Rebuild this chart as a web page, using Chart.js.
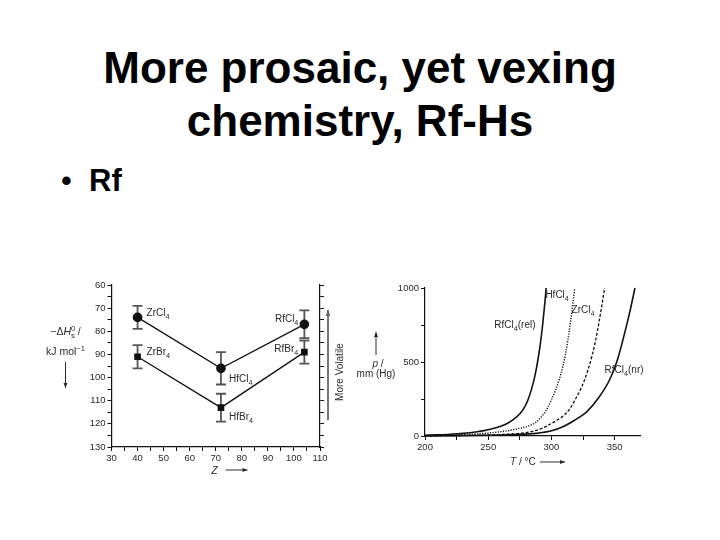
<!DOCTYPE html>
<html>
<head>
<meta charset="utf-8">
<script src="https://cdn.jsdelivr.net/npm/chart.js@4.4.1/dist/chart.umd.min.js"></script>
<style>
html, body { margin: 0; padding: 0; background: #fff; }
body { width: 720px; height: 540px; position: relative; overflow: hidden; font-family: "Liberation Sans", Arial, sans-serif; color: #000; }
#title { position: absolute; left: 0; top: 41px; width: 720px; text-align: center; font-weight: bold; font-size: 44px; line-height: 53px; }
.bullet { position: absolute; top: 165px; font-size: 31px; line-height: 31px; }
.box { position: absolute; }
</style>
</head>
<body>
<div id="title">More prosaic, yet vexing<br>chemistry, Rf-Hs</div>
<div class="bullet" style="left:61px">•</div>
<div class="bullet" style="left:89px;font-weight:bold">Rf</div>
<div class="box" style="left:30px;top:270px;width:320px;height:215px"><canvas id="enthalpy"></canvas></div>
<div class="box" style="left:350px;top:270px;width:320px;height:200px"><canvas id="pressure"></canvas></div>

<script>
// Left panel: sublimation enthalpies vs. Z
const zValues = [40, 72, 104];
const chlorideH = [74, 96, 77];
const chlorideErr = [5, 7, 6];
const bromideH = [91, 113, 89];
const bromideErr = [5, 6, 5];

// Right panel: vapour pressure curves (T in °C, p in mm Hg)
const relT = [200, 210, 220, 230, 240, 250, 260, 265, 270, 275, 278, 281, 284, 287, 289, 291, 293, 295, 295.8];
const relP = [5, 8, 12, 18, 27, 42, 66, 84, 112, 150, 185, 235, 310, 410, 500, 610, 750, 920, 1000];
const hfT = [200, 225, 250, 265, 275, 282, 288, 293, 297, 300, 303, 306, 309, 311, 313, 315, 317, 318.4];
const hfP = [2, 7, 20, 35, 52, 68, 95, 140, 190, 245, 305, 378, 470, 550, 650, 770, 900, 1000];
const zrT = [200, 225, 250, 265, 275, 285, 292, 298, 304, 310, 315, 319, 323, 326, 329, 332, 335, 338, 340, 342];
const zrP = [1, 3, 7, 12, 18, 32, 50, 75, 105, 140, 190, 250, 315, 375, 450, 540, 650, 790, 890, 1000];
const nrT = [200, 225, 250, 270, 288, 300, 309, 318, 328, 337, 346, 352, 358, 362, 366];
const nrP = [1, 2, 5, 10, 18, 35, 63, 105, 165, 255, 380, 510, 700, 840, 1000];

const FONT = '"Liberation Sans", Arial, sans-serif';
const INK = '#111';
const TXT = '#2a2a2a';

const pts = (xs, ys) => xs.map((x, i) => ({ x: x, y: ys[i] }));
const fixedWidth = w => s => { s.width = w; };
const fixedHeight = h => s => { s.height = h; };
const keepMultiples = step => s => {
    s.ticks = s.ticks.filter(t => Math.abs(t.value / step - Math.round(t.value / step)) < 1e-9);
};

// text with sub/superscripts and italics
function drawRich(ctx, segs, x, y, align, size) {
    const font = s => (s.it ? 'italic ' : '') + ((s.sub || s.sup) ? size * 0.72 : size) + 'px ' + FONT;
    let w = 0;
    segs.forEach(s => {
        ctx.font = font(s);
        s.w = ctx.measureText(s.t).width;
        if (!s.stack) w += s.w;
    });
    let cx = align === 'right' ? x - w : align === 'center' ? x - w / 2 : x;
    ctx.textAlign = 'left';
    ctx.textBaseline = 'alphabetic';
    segs.forEach(s => {
        ctx.font = font(s);
        const dy = s.sub ? size * 0.3 : s.sup ? -size * 0.42 : 0;
        ctx.fillText(s.t, cx, y + dy);
        if (!s.stack) cx += s.w;
    });
}

function arrow(ctx, x1, y1, x2, y2, head) {
    ctx.beginPath();
    ctx.moveTo(x1, y1);
    ctx.lineTo(x2, y2);
    ctx.stroke();
    const a = Math.atan2(y2 - y1, x2 - x1);
    const c = Math.cos(a), s = Math.sin(a);
    ctx.beginPath();
    ctx.moveTo(x2, y2);
    ctx.lineTo(x2 - head * c + head * 0.4 * s, y2 - head * s - head * 0.4 * c);
    ctx.lineTo(x2 - head * c - head * 0.4 * s, y2 - head * s + head * 0.4 * c);
    ctx.closePath();
    ctx.fill();
}

const chem = (base, tail) => [{ t: base }, { t: '4', sub: true }].concat(tail ? [{ t: tail }] : []);

// label placement next to the data points (offsets in px)
const enthalpyLabels = [
    { seg: chem('ZrCl'), z: 40, h: 74, dx: 9, dy: -5, align: 'left' },
    { seg: chem('ZrBr'), z: 40, h: 91, dx: 9, dy: -5, align: 'left' },
    { seg: chem('HfCl'), z: 72, h: 96, dx: 8, dy: 10, align: 'left' },
    { seg: chem('HfBr'), z: 72, h: 113, dx: 8, dy: 9, align: 'left' },
    { seg: chem('RfCl'), z: 104, h: 77, dx: -6, dy: -5.5, align: 'right' },
    { seg: chem('RfBr'), z: 104, h: 89, dx: -6, dy: -3.5, align: 'right' }
];

const enthalpyDecor = {
    id: 'enthalpyDecor',
    beforeDatasetsDraw(chart) {
        const { ctx, scales: { x, y } } = chart;
        ctx.save();
        ctx.strokeStyle = '#555';
        ctx.lineWidth = 1.8;
        [[chlorideH, chlorideErr], [bromideH, bromideErr]].forEach(([vals, errs]) => {
            vals.forEach((v, i) => {
                const px = x.getPixelForValue(zValues[i]);
                const top = y.getPixelForValue(v - errs[i]);
                const bot = y.getPixelForValue(v + errs[i]);
                ctx.beginPath();
                ctx.moveTo(px, top); ctx.lineTo(px, bot);
                ctx.moveTo(px - 5, top); ctx.lineTo(px + 5, top);
                ctx.moveTo(px - 5, bot); ctx.lineTo(px + 5, bot);
                ctx.stroke();
            });
        });
        ctx.restore();
    },
    afterDraw(chart) {
        const { ctx, chartArea: a, scales: { x, y } } = chart;
        ctx.save();
        ctx.fillStyle = TXT;
        ctx.strokeStyle = TXT;
        ctx.lineWidth = 1;
        enthalpyLabels.forEach(l => {
            drawRich(ctx, l.seg.map(s => Object.assign({}, s)), x.getPixelForValue(l.z) + l.dx,
                y.getPixelForValue(l.h) + l.dy + 3.5, l.align, 10);
        });
        // y title
        const tx = a.left - 46;
        drawRich(ctx, [{ t: '\u2212\u0394' }, { t: 'H', it: true }, { t: '0', sup: true, stack: true },
            { t: 's', sub: true }, { t: ' /' }], tx, a.top + 50, 'center', 10.5);
        drawRich(ctx, [{ t: 'kJ mol' }, { t: '\u22121', sup: true }], tx, a.top + 70, 'center', 10.5);
        arrow(ctx, tx, a.top + 77, tx, a.top + 103, 5);
        // x title
        drawRich(ctx, [{ t: 'Z', it: true }], a.left + 103, a.bottom + 27, 'center', 10.5);
        arrow(ctx, a.left + 114, a.bottom + 23, a.left + 136, a.bottom + 23, 5);
        // "More Volatile" with upward arrow
        ctx.strokeStyle = '#777';
        ctx.fillStyle = '#666';
        ctx.lineWidth = 2;
        arrow(ctx, a.right + 8, a.top + 135, a.right + 8, a.top + 25, 6);
        ctx.fillStyle = TXT;
        ctx.translate(a.right + 20, a.top + 87);
        ctx.rotate(-Math.PI / 2);
        ctx.font = '10px ' + FONT;
        ctx.textAlign = 'center';
        ctx.textBaseline = 'middle';
        ctx.fillText('More Volatile', 0, 0);
        ctx.restore();
    }
};

const tickFont = { family: FONT, size: 9.5 };

new Chart(document.getElementById('enthalpy'), {
    type: 'scatter',
    data: {
        datasets: [{
            label: 'MCl4',
            data: pts(zValues, chlorideH),
            showLine: true,
            borderColor: INK,
            borderWidth: 1.3,
            pointStyle: 'circle',
            pointRadius: 4.2,
            pointBackgroundColor: INK,
            pointBorderColor: INK
        }, {
            label: 'MBr4',
            data: pts(zValues, bromideH),
            showLine: true,
            borderColor: INK,
            borderWidth: 1.3,
            pointStyle: 'rect',
            pointRadius: 3.8,
            pointBackgroundColor: INK,
            pointBorderColor: INK
        }]
    },
    options: {
        responsive: true,
        maintainAspectRatio: false,
        animation: false,
        layout: { padding: { top: 15, left: 0, right: 0, bottom: 0 } },
        plugins: { legend: { display: false }, tooltip: { enabled: false } },
        scales: {
            x: {
                type: 'linear', min: 30, max: 110,
                afterBuildTicks: keepMultiples(5),
                afterFit: fixedHeight(38),
                ticks: { stepSize: 5, autoSkip: false, maxRotation: 0, padding: 2, color: TXT, font: tickFont,
                    callback: v => v % 10 === 0 ? v : '' },
                grid: { drawOnChartArea: false, tickLength: 4, color: INK },
                border: { color: INK, width: 1.2 }
            },
            y: {
                type: 'linear', reverse: true, min: 60, max: 130,
                afterBuildTicks: keepMultiples(5),
                afterFit: fixedWidth(81.5),
                ticks: { stepSize: 5, autoSkip: false, padding: 2, color: TXT, font: tickFont,
                    callback: v => v % 10 === 0 ? v : '' },
                grid: { drawOnChartArea: false, tickLength: 4, color: INK },
                border: { color: INK, width: 1.2 }
            },
            y2: {
                type: 'linear', position: 'right', reverse: true, min: 60, max: 130,
                afterBuildTicks: keepMultiples(5),
                afterFit: fixedWidth(30),
                ticks: { stepSize: 5, display: false },
                grid: { drawOnChartArea: false, tickLength: 4, color: INK },
                border: { color: INK, width: 1.2 }
            }
        }
    },
    plugins: [enthalpyDecor]
});

// curve labels anchored in data coordinates (T, p)
const pressureLabels = [
    { seg: chem('HfCl'), t: 295.2, p: 935 },
    { seg: chem('ZrCl'), t: 315.9, p: 830 },
    { seg: chem('RfCl', '(rel)'), t: 254.8, p: 730 },
    { seg: chem('RfCl', '(nr)'), t: 342, p: 426 }
];

const pressureDecor = {
    id: 'pressureDecor',
    afterDraw(chart) {
        const { ctx, chartArea: a, scales: { x, y } } = chart;
        ctx.save();
        ctx.fillStyle = TXT;
        ctx.strokeStyle = TXT;
        ctx.lineWidth = 1;
        pressureLabels.forEach(l => {
            drawRich(ctx, l.seg.map(s => Object.assign({}, s)), x.getPixelForValue(l.t), y.getPixelForValue(l.p), 'left', 10);
        });
        // y title
        arrow(ctx, a.left - 49, a.top + 67, a.left - 49, a.top + 44, 5);
        drawRich(ctx, [{ t: 'p', it: true }, { t: ' /' }], a.left - 47, a.top + 79, 'center', 10);
        drawRich(ctx, [{ t: 'mm (Hg)' }], a.left - 49, a.top + 89, 'center', 10);
        // x title
        drawRich(ctx, [{ t: 'T', it: true }, { t: ' / \u00B0C' }], a.left + 85, a.bottom + 29, 'left', 10);
        arrow(ctx, a.left + 115, a.bottom + 26, a.left + 140, a.bottom + 26, 5);
        ctx.restore();
    }
};

const curve = (label, xs, ys, dash, width) => ({
    label: label,
    data: pts(xs, ys),
    showLine: true,
    borderColor: INK,
    borderWidth: width,
    borderDash: dash,
    pointRadius: 0,
    cubicInterpolationMode: 'monotone',
    clip: false
});

new Chart(document.getElementById('pressure'), {
    type: 'scatter',
    data: {
        datasets: [
            curve('RfCl4(rel)', relT, relP, [], 1.6),
            curve('HfCl4', hfT, hfP, [1.2, 1.4], 1.4),
            curve('ZrCl4', zrT, zrP, [3, 1.8], 1.3),
            curve('RfCl4(nr)', nrT, nrP, [], 1.6)
        ]
    },
    options: {
        responsive: true,
        maintainAspectRatio: false,
        animation: false,
        layout: { padding: { top: 18, left: 0, right: 30, bottom: 0 } },
        plugins: { legend: { display: false }, tooltip: { enabled: false } },
        scales: {
            x: {
                type: 'linear', min: 200, max: 370,
                afterBuildTicks: keepMultiples(25),
                afterFit: fixedHeight(34),
                ticks: { stepSize: 25, autoSkip: false, maxRotation: 0, padding: 2, color: TXT, font: tickFont,
                    callback: v => v % 50 === 0 ? v : '' },
                grid: { drawOnChartArea: false, tickLength: 4, color: INK },
                border: { color: INK, width: 1.2 }
            },
            y: {
                type: 'linear', min: 0, max: 1000,
                afterBuildTicks: keepMultiples(250),
                afterFit: fixedWidth(75),
                ticks: { stepSize: 250, autoSkip: false, padding: 2, color: TXT, font: tickFont,
                    callback: v => v % 500 === 0 ? v : '' },
                grid: { drawOnChartArea: false, tickLength: 4, color: INK },
                border: { color: INK, width: 1.2 }
            }
        }
    },
    plugins: [pressureDecor]
});
</script>
</body>
</html>
